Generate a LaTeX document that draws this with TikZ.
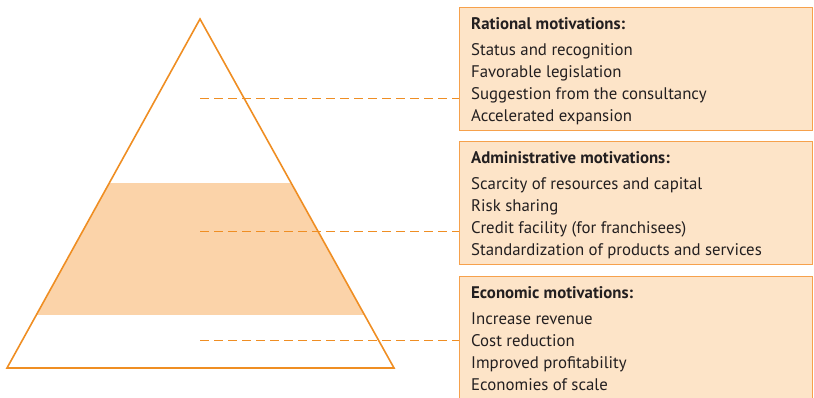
\documentclass[tikz,border=0pt]{standalone}
\usepackage{fontspec}
\setmainfont{PT Sans}
\usetikzlibrary{calc}
\definecolor{triorange}{HTML}{EF8E23}
\definecolor{bandfill}{HTML}{FBD3A9}
\definecolor{boxfill}{HTML}{FDE4C8}
\definecolor{boxline}{HTML}{F6A14C}
\definecolor{txt}{HTML}{231F20}
\tikzset{
  x=1pt, y=1pt,
  motbox/.style={draw=boxline, fill=boxfill, line width=1.3pt, minimum width=353pt, minimum height=123pt, inner sep=0pt, anchor=north west},
  mottext/.style={anchor=base west, align=left, inner sep=0pt, text=txt, font=\fontsize{16.8}{22}\selectfont},
  leader/.style={draw=triorange, line width=0.9pt, dash pattern=on 9pt off 5pt},
}
\begin{document}
\begin{tikzpicture}
\useasboundingbox (0,0) rectangle (814,397);
% pyramid
\coordinate (apex) at (200,378);
\coordinate (bl) at (7,29);
\coordinate (br) at (394,29);
\begin{scope}
  \clip (apex) -- (bl) -- (br) -- cycle;
  \fill[bandfill] (0,82) rectangle (400,214);
\end{scope}
% boxes
\begin{scope}
\clip (0,0) rectangle (814,397);
\node[motbox] (b1) at (459,390) {};
\node[motbox] (b2) at (459,256) {};
\node[motbox, minimum height=130pt] (b3) at (459,121) {};
\end{scope}
\node[mottext] (t1) at ($(b1.north west)+(12,-114.7)$) {\textbf{Rational motivations:}\\[4.4pt]Status and recognition\\Favorable legislation\\Suggestion from the consultancy\\Accelerated expansion};
\node[mottext] (t2) at ($(b2.north west)+(12,-114.7)$) {\textbf{Administrative motivations:}\\[4.4pt]Scarcity of resources and capital\\Risk sharing\\Credit facility (for franchisees)\\Standardization of products and services};
\node[mottext] (t3) at ($(b3.north west)+(12,-114.7)$) {\textbf{Economic motivations:}\\[4.4pt]Increase revenue\\Cost reduction\\Improved profitability\\Economies of scale};
% leaders
\coordinate (d1) at (200,299);
\coordinate (d2) at (200,166);
\coordinate (d3) at (200,57);
\draw[leader] (d1) -- (d1 -| b1.west);
\draw[leader] (d2) -- (d2 -| b2.west);
\draw[leader] (d3) -- (d3 -| b3.west);
\draw[triorange, line width=1.6pt, line join=miter] (apex) -- (bl) -- (br) -- cycle;
\end{tikzpicture}
\end{document}
